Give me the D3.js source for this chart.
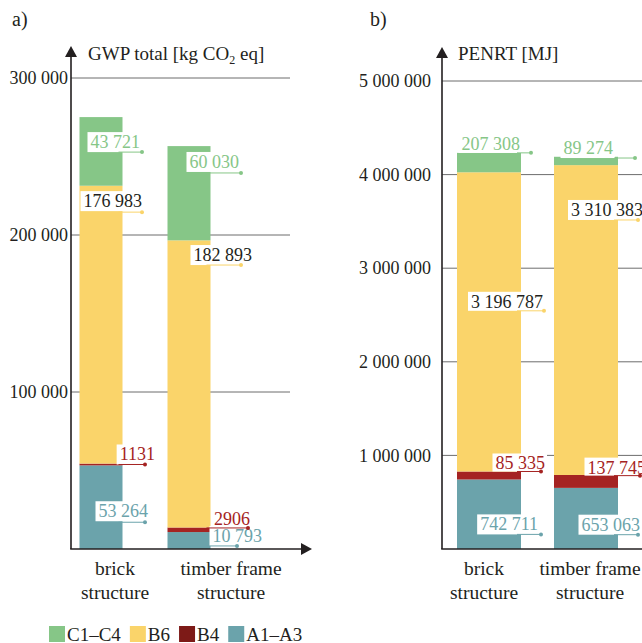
<!DOCTYPE html>
<html>
<head>
<meta charset="utf-8">
<script src="https://cdn.jsdelivr.net/npm/d3@7"></script>
<style>
  body { margin: 0; background: #fff; }
  svg { display: block; font-family: "Liberation Serif", "Times New Roman", serif; }
</style>
</head>
<body>
<svg id="chart" width="642" height="643"></svg>
<script>
// data
const categories = ["brick structure", "timber frame structure"];
const categoryLines = [["brick", "structure"], ["timber frame", "structure"]];
const seriesKeys = ["A1–A3", "B4", "B6", "C1–C4"];
const legendOrder = ["C1–C4", "B6", "B4", "A1–A3"];

const gwpA1A3 = [53264, 10793];
const gwpB4 = [1131, 2906];
const gwpB6 = [176983, 182893];
const gwpC1C4 = [43721, 60030];
const gwpTicks = [100000, 200000, 300000];

const penrtA1A3 = [742711, 653063];
const penrtB4 = [85335, 137745];
const penrtB6 = [3196787, 3310383];
const penrtC1C4 = [207308, 89274];
const penrtTicks = [1000000, 2000000, 3000000, 4000000, 5000000];

// colours
const barColor = { "A1–A3": "#6ba3ab", "B4": "#a52322", "B6": "#fad46a", "C1–C4": "#86c687" };
const legendColor = { "A1–A3": "#6ba3ab", "B4": "#7d1a17", "B6": "#fad46a", "C1–C4": "#86c687" };
const textColor = { "A1–A3": "#6ba3ab", "B4": "#a52322", "B6": "#231f20", "C1–C4": "#86c687" };
const ink = "#231f20";
const wordSize = 19.5;

// number format with a space as thousands separator (4 digit numbers stay plain)
function fmt(v) {
    return v < 10000 ? String(v) : d3.format(",")(v).replace(/,/g, " ");
}

function makeTable(a, b4, b6, c) {
    return categories.map((cat, i) => ({
        cat: cat, "A1–A3": a[i], "B4": b4[i], "B6": b6[i], "C1–C4": c[i]
    }));
}

// label placement: [fraction inside segment, dot dx, text-end dx, baseline dy] per category
const panels = [
    {
        tag: "a)", tagX: 12,
        title: ["GWP total [kg CO", "2", " eq]"], titleX: 88,
        table: makeTable(gwpA1A3, gwpB4, gwpB6, gwpC1C4),
        ticks: gwpTicks, yMax: 300000, yTop: 78,
        axisX: 71, gridEnd: 290, axisEnd: 312, arrowTop: 46, tickPad: 3,
        barCenters: [101, 189], barW: 43, labelCenters: [115, 231],
        labels: {
            "A1–A3": [[0.32, 44, 47, -5], [0.18, 48, 73, -4]],
            "B4": [[0.5, 44, 54, -4], [0.9, 59, 61, -3]],
            "B6": [[0.905, 41, 41, -5], [0.914, 52, 63, -4]],
            "C1–C4": [[0.49, 41, 39, -4], [0.715, 52, 50, -5]]
        }
    },
    {
        tag: "b)", tagX: 370,
        title: ["PENRT [MJ]"], titleX: 458,
        table: makeTable(penrtA1A3, penrtB4, penrtB6, penrtC1C4),
        ticks: penrtTicks, yMax: 5000000, yTop: 81,
        axisX: 442, gridEnd: 661, axisEnd: 683, arrowTop: 47, tickPad: 11,
        barCenters: [489, 586], barW: 64, labelCenters: [484, 590],
        labels: {
            "A1–A3": [[0.21, 52, 49, -4], [0.234, 52, 54, -4]],
            "B4": [[1, 52, 56, -2], [0.95, 54, 60, -2]],
            "B6": [[0.537, 55, 54, -3], [0.823, 52, 57, -4]],
            "C1–C4": [[1, 42, 31, -3], [0.85, 49, 27, -4]]
        }
    }
];

const svg = d3.select("#chart");
const baseY = 549;

panels.forEach(p => {
    const g = svg.append("g");

    const y = d3.scaleLinear().domain([0, p.yMax]).range([baseY, p.yTop]);
    const x = d3.scalePoint().domain(categories).range(p.barCenters);
    const xl = d3.scalePoint().domain(categories).range(p.labelCenters);

    // panel tag and title
    g.append("text").attr("x", p.tagX).attr("y", 26)
        .attr("font-size", 20).attr("fill", ink).text(p.tag);

    const title = g.append("text").attr("x", p.titleX).attr("y", 60)
        .attr("font-size", 19).attr("fill", ink);
    title.append("tspan").text(p.title[0]);
    if (p.title.length > 1) {
        title.append("tspan").attr("font-size", 12).attr("dy", 4).text(p.title[1]);
        title.append("tspan").attr("dy", -4).text(p.title[2]);
    }

    // gridlines
    g.append("g")
        .selectAll("line")
        .data(p.ticks)
        .enter()
        .append("line")
        .attr("x1", p.axisX).attr("x2", p.gridEnd)
        .attr("y1", d => y(d)).attr("y2", d => y(d))
        .attr("stroke", "#6d6d6d").attr("stroke-width", 1);

    // y tick labels
    const yAxis = g.append("g")
        .attr("transform", `translate(${p.axisX},0)`)
        .call(d3.axisLeft(y).tickValues(p.ticks).tickSize(0).tickPadding(p.tickPad).tickFormat(fmt));
    yAxis.select(".domain").remove();
    yAxis.selectAll("text")
        .attr("font-family", "Liberation Serif, serif")
        .attr("font-size", 18).attr("fill", ink);

    // stacked bars
    const stacked = d3.stack().keys(seriesKeys)(p.table);
    g.append("g")
        .selectAll("g")
        .data(stacked)
        .enter()
        .append("g")
        .attr("fill", d => barColor[d.key])
        .selectAll("rect")
        .data(d => d)
        .enter()
        .append("rect")
        .attr("x", d => x(d.data.cat) - p.barW / 2)
        .attr("y", d => y(d[1]))
        .attr("width", p.barW)
        .attr("height", d => y(d[0]) - y(d[1]));

    // axes with arrow heads
    g.append("line")
        .attr("x1", p.axisX).attr("x2", p.axisX)
        .attr("y1", baseY).attr("y2", p.arrowTop + 8)
        .attr("stroke", ink).attr("stroke-width", 1.6);
    g.append("path")
        .attr("d", `M${p.axisX},${p.arrowTop} L${p.axisX - 6},${p.arrowTop + 11} L${p.axisX + 6},${p.arrowTop + 11} Z`)
        .attr("fill", ink);
    g.append("line")
        .attr("x1", p.axisX - 0.8).attr("x2", p.axisEnd - 8)
        .attr("y1", baseY).attr("y2", baseY)
        .attr("stroke", ink).attr("stroke-width", 1.6);
    g.append("path")
        .attr("d", `M${p.axisEnd},${baseY} L${p.axisEnd - 11},${baseY - 6} L${p.axisEnd - 11},${baseY + 6} Z`)
        .attr("fill", ink);

    // value labels with leader lines
    stacked.forEach(s => {
        s.forEach((d, i) => {
            const [f, dotDx, textDx, dy] = p.labels[s.key][i];
            const cx = x(d.data.cat);
            const ly = y(d[0] + f * (d[1] - d[0]));
            const lg = g.append("g");

            const t = lg.append("text")
                .attr("x", cx + textDx).attr("y", ly + dy)
                .attr("text-anchor", "end")
                .attr("font-size", 18)
                .attr("fill", textColor[s.key])
                .text(fmt(d.data[s.key]));
            const bb = t.node().getBBox();
            lg.insert("rect", "text")
                .attr("x", bb.x - 3).attr("y", bb.y)
                .attr("width", bb.width + 5)
                .attr("height", Math.min(bb.height, ly - bb.y))
                .attr("fill", "#fff");
            lg.insert("line", "text")
                .attr("x1", cx + p.barW / 2 - 4).attr("x2", cx + dotDx)
                .attr("y1", ly).attr("y2", ly)
                .attr("stroke", barColor[s.key]).attr("stroke-width", 1);
            lg.append("circle")
                .attr("cx", cx + dotDx).attr("cy", ly).attr("r", 2)
                .attr("fill", barColor[s.key]);
        });
    });

    // category labels
    g.append("g")
        .selectAll("text")
        .data(categories)
        .enter()
        .append("text")
        .attr("text-anchor", "middle")
        .attr("font-size", wordSize)
        .attr("fill", ink)
        .attr("x", d => xl(d))
        .attr("y", 575)
        .each(function (d, i) {
            categoryLines[i].forEach((line, j) => {
                d3.select(this).append("tspan")
                    .attr("x", xl(d)).attr("dy", j === 0 ? 0 : 24)
                    .text(line);
            });
        });
});

// legend
const legend = svg.append("g").attr("transform", "translate(49,626)");
let lx = 0;
legendOrder.forEach(k => {
    legend.append("rect")
        .attr("x", lx).attr("y", 0).attr("width", 16).attr("height", 16)
        .attr("fill", legendColor[k]);
    const t = legend.append("text")
        .attr("x", lx + 18).attr("y", 14.5)
        .attr("font-size", 19).attr("fill", ink)
        .text(k);
    lx += 18 + t.node().getComputedTextLength() + 9;
});
</script>
</body>
</html>
